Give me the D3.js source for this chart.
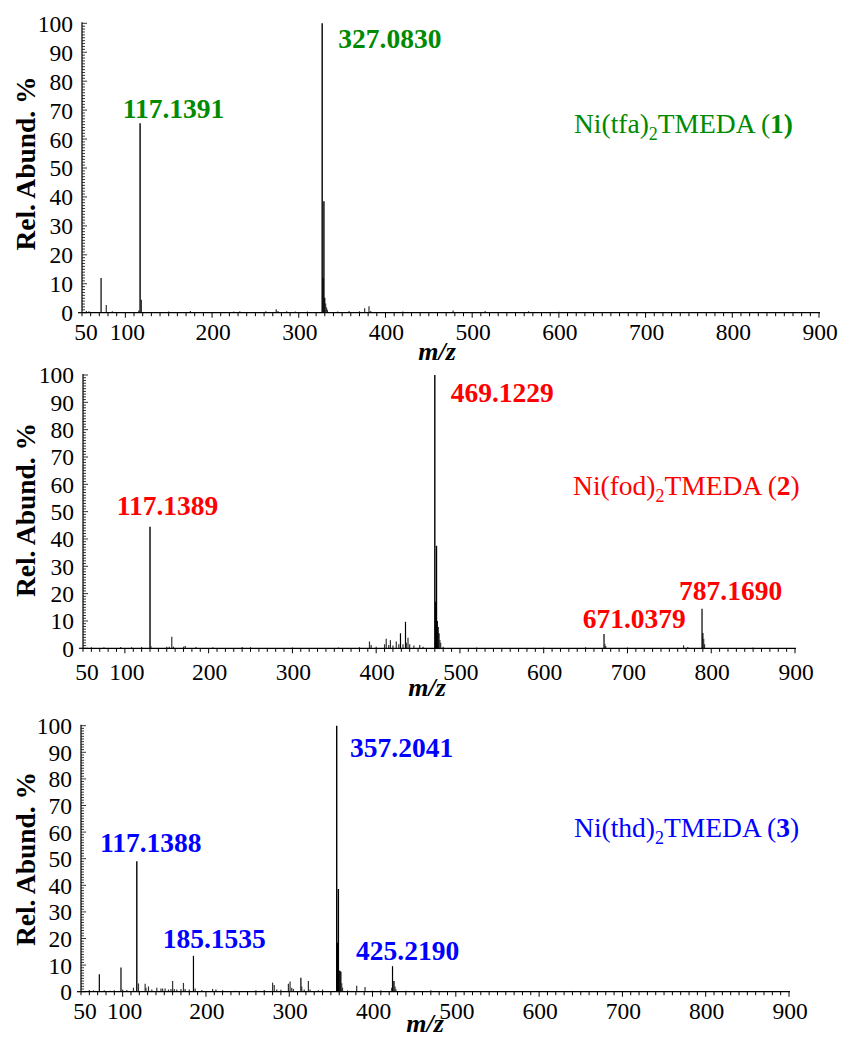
<!DOCTYPE html>
<html>
<head>
<meta charset="utf-8">
<script src="https://cdn.jsdelivr.net/npm/d3@7"></script>
<style>
  html, body { margin: 0; padding: 0; background: #fff; }
  svg { display: block; }
  text { font-family: "Liberation Serif", "Times New Roman", serif; }
</style>
</head>
<body>
<svg id="chart" width="843" height="1039"></svg>
<script>
// ---------------- DATA ----------------
const mzTickValues = [50, 100, 200, 300, 400, 500, 600, 700, 800, 900];
const abundTickValues = [0, 10, 20, 30, 40, 50, 60, 70, 80, 90, 100];

// Panel 1: Ni(tfa)2TMEDA (1)  [m/z, rel. abundance %]
const spectrum1Mz = [55, 58, 72, 78, 85, 115.5, 117, 118.5, 150, 175, 225, 232, 262, 274, 276, 286, 296, 310,
  327, 328, 329, 330, 331, 332, 333, 345, 358, 370, 376, 381, 383, 420, 478, 515, 565, 600];
const spectrum1Ab = [0.6, 0.5, 12, 2.7, 0.5, 0.8, 65.5, 4.5, 0.4, 0.6, 0.4, 0.5, 0.5, 1.2, 0.6, 0.5, 0.4, 0.4,
  100, 12, 38.5, 5.2, 3.2, 1.8, 1, 0.4, 0.6, 0.5, 1.5, 2.2, 0.6, 0.4, 0.8, 0.6, 0.5, 0.3];

// Panel 2: Ni(fod)2TMEDA (2)
const spectrum2Mz = [60, 75, 95, 108, 120, 130, 131, 150, 153, 156, 158, 170, 172, 185, 205, 240, 250, 300, 355, 380,
  392, 394, 400, 410, 412, 415, 417, 420, 424, 427, 429, 432, 435, 436, 438, 440, 445, 452, 456,
  470, 471, 472, 473, 474, 475, 476, 477, 480, 520, 600, 650, 672, 673, 674, 700, 767, 772, 789, 790, 791, 792, 850];
const spectrum2Ab = [0.4, 0.4, 0.5, 0.4, 0.5, 44.5, 0.8, 0.6, 0.6, 4.2, 0.6, 0.6, 0.8, 0.5, 0.4, 0.5, 0.4, 0.3, 0.3, 0.4,
  2.5, 1.2, 0.6, 1.5, 3.5, 1.2, 3, 1, 2.5, 1.5, 5.5, 1.5, 9.7, 2, 3.9, 1.5, 1, 1.2, 0.6,
  100, 17, 37.5, 10, 7.8, 5.5, 3, 2, 0.6, 0.3, 0.3, 0.4, 5.2, 1.6, 0.8, 0.3, 1.1, 0.5, 14.5, 5.6, 3.5, 1.5, 0.3];

// Panel 3: Ni(thd)2TMEDA (3)
const spectrum3Mz = [60, 65, 72, 78, 85, 90, 98, 100, 105, 113, 117, 119, 127, 128, 131, 135, 141, 146, 148, 151, 155, 158,
  160, 162, 165, 170, 173, 175, 180, 185, 187, 195, 208, 212, 220, 235, 260, 270, 280, 282, 285, 290, 299, 301, 303, 305,
  314, 315, 318, 323, 325, 335, 340, 357, 358, 359, 360, 361, 362, 363, 364, 370, 381, 391, 400, 410,
  423, 424, 425, 426, 427, 428, 440, 470, 560, 640];
const spectrum3Ab = [0.6, 0.5, 6.6, 0.5, 0.4, 0.5, 9.1, 0.8, 0.6, 1.5, 49, 3.1, 3, 1.5, 2, 0.8, 1.5, 1.2, 1.2, 1.2, 0.8, 1,
  4, 1, 0.8, 1, 3.3, 1, 0.8, 13.5, 1.2, 0.6, 1, 0.8, 0.5, 0.4, 0.5, 0.6, 3.4, 2.5, 0.8, 0.7, 3, 3.8, 1.5, 1,
  5.2, 2, 0.8, 4, 0.8, 0.5, 0.8, 100, 18.4, 38.6, 8, 7.8, 7.5, 3.2, 1.5, 0.5, 2.2, 1.8, 0.4, 0.5,
  1.5, 9.6, 4, 4, 2, 1, 0.4, 0.5, 0.3, 0.3];

// Peak annotations: text and anchor in data coordinates (m/z, abundance) of label start/baseline
const labels1Text = ["117.1391", "327.0830"];
const labels1Mz = [96.9, 345.6];
const labels1Ab = [67.2, 91.4];
const labels2Text = ["117.1389", "469.1229", "671.0379", "787.1690"];
const labels2Mz = [90.2, 489, 646.6, 761.6];
const labels2Ab = [48.8, 90.2, 7.4, 17.7];
const labels3Text = ["117.1388", "185.1535", "357.2041", "425.2190"];
const labels3Mz = [72.8, 148.1, 373, 380.2];
const labels3Ab = [52.6, 16.4, 88.1, 11.9];

// Compound names
const compoundLigands = ["tfa", "fod", "thd"];
const compoundNumbers = ["1", "2", "3"];
const compoundMz = [617.4, 635, 641.9];
const compoundAb = [62, 56.1, 58.3];

const yTitle = "Rel. Abund. %";
const xTitle = "m/z";

// ---------------- LAYOUT ----------------
const panels = [
  { x0: 82, x1: 819, yTop: 23.3, yBot: 312.7, color: "#008a00", titleY: 163.5, tickDy: 27, xTitleX: 437, xTitleY: 360,
    mz: spectrum1Mz, ab: spectrum1Ab, lt: labels1Text, lm: labels1Mz, la: labels1Ab, boldNum: true },
  { x0: 83, x1: 795, yTop: 375, yBot: 648.3, color: "#ff0000", titleY: 510, tickDy: 32, xTitleX: 427, xTitleY: 696,
    mz: spectrum2Mz, ab: spectrum2Ab, lt: labels2Text, lm: labels2Mz, la: labels2Ab, boldNum: false },
  { x0: 81, x1: 789, yTop: 725.7, yBot: 991.7, color: "#0000ff", titleY: 859, tickDy: 27, xTitleX: 425, xTitleY: 1032,
    mz: spectrum3Mz, ab: spectrum3Ab, lt: labels3Text, lm: labels3Mz, la: labels3Ab, boldNum: false }
];

const svg = d3.select("#chart");

panels.forEach((p, i) => {
  const x = d3.scaleLinear().domain([50, 900]).range([p.x0, p.x1]);
  const y = d3.scaleLinear().domain([0, 100]).range([p.yBot, p.yTop]);
  const g = svg.append("g");

  // Peaks (stick spectrum)
  const peaks = p.mz.map((m, k) => ({ m, a: p.ab[k] }));
  g.selectAll("line.peak").data(peaks).join("line")
    .attr("class", "peak")
    .attr("x1", d => x(d.m)).attr("x2", d => x(d.m))
    .attr("y1", y(0)).attr("y2", d => y(d.a))
    .attr("stroke", d => d.a > 5 ? "#000" : "#333")
    .attr("stroke-width", d => d.a > 30 ? 1.4 : 1.2);

  // X axis
  const xAxis = g.append("g").attr("transform", `translate(0,${p.yBot})`);
  xAxis.append("line").attr("x1", p.x0).attr("x2", p.x1 + 1).attr("y1", 0).attr("y2", 0)
    .attr("stroke", "#000").attr("stroke-width", 1.2);
  const xMinor = d3.range(50, 901, 10);
  xAxis.selectAll("line.xt").data(xMinor).join("line")
    .attr("class", "xt")
    .attr("x1", d => x(d)).attr("x2", d => x(d))
    .attr("y1", 0).attr("y2", d => d % 100 === 0 ? 5 : 3.5)
    .attr("stroke", "#000").attr("stroke-width", 1);
  xAxis.selectAll("text.xl").data(mzTickValues).join("text")
    .attr("class", "xl")
    .attr("x", d => x(d) + (d === 50 ? 4 : (d === 100 ? 2 : 1)))
    .attr("y", p.tickDy)
    .attr("text-anchor", "middle")
    .attr("font-size", 23.5)
    .attr("fill", "#000")
    .text(d => d);

  // Y axis
  const yAxis = g.append("g").attr("transform", `translate(${p.x0},0)`);
  yAxis.append("line").attr("x1", 0).attr("x2", 0).attr("y1", p.yTop - 1).attr("y2", p.yBot)
    .attr("stroke", "#000").attr("stroke-width", 1.2);
  yAxis.append("line").attr("x1", -4).attr("x2", 0).attr("y1", p.yBot).attr("y2", p.yBot)
    .attr("stroke", "#000").attr("stroke-width", 1.2);
  const yMinor = d3.range(0, 101, 1);
  yAxis.selectAll("line.yt").data(yMinor).join("line")
    .attr("class", "yt")
    .attr("x1", 0).attr("x2", d => d % 10 === 0 ? 5 : 3)
    .attr("y1", d => y(d)).attr("y2", d => y(d))
    .attr("stroke", "#000").attr("stroke-width", 0.8);
  yAxis.selectAll("text.yl").data(abundTickValues).join("text")
    .attr("class", "yl")
    .attr("x", -9)
    .attr("y", d => y(d))
    .attr("dy", "0.36em")
    .attr("text-anchor", "end")
    .attr("font-size", 23.5)
    .attr("fill", "#000")
    .text(d => d);

  // Y title
  svg.append("text")
    .attr("transform", `translate(35,${p.titleY}) rotate(-90)`)
    .attr("text-anchor", "middle")
    .attr("font-size", 27.5)
    .attr("font-weight", "bold")
    .attr("fill", "#000")
    .text(yTitle);

  // X title
  svg.append("text")
    .attr("x", p.xTitleX).attr("y", p.xTitleY)
    .attr("text-anchor", "middle")
    .attr("font-size", 26)
    .attr("font-weight", "bold")
    .attr("font-style", "italic")
    .attr("fill", "#000")
    .text(xTitle);

  // Peak labels
  const labs = p.lt.map((t, k) => ({ t, m: p.lm[k], a: p.la[k] }));
  g.selectAll("text.pl").data(labs).join("text")
    .attr("class", "pl")
    .attr("x", d => x(d.m)).attr("y", d => y(d.a))
    .attr("font-size", 27.5)
    .attr("font-weight", "bold")
    .attr("fill", p.color)
    .text(d => d.t);

  // Compound name
  const ct = g.append("text")
    .attr("x", x(compoundMz[i])).attr("y", y(compoundAb[i]))
    .attr("font-size", 27.5)
    .attr("fill", p.color);
  ct.append("tspan").text("Ni(" + compoundLigands[i] + ")");
  ct.append("tspan").attr("font-size", 18).attr("dy", 7).text("2");
  ct.append("tspan").attr("dy", -7).text("TMEDA (");
  ct.append("tspan").attr("font-weight", "bold").text(compoundNumbers[i]);
  ct.append("tspan").attr("font-weight", p.boldNum ? "bold" : "normal").text(")");
});
</script>
</body>
</html>
